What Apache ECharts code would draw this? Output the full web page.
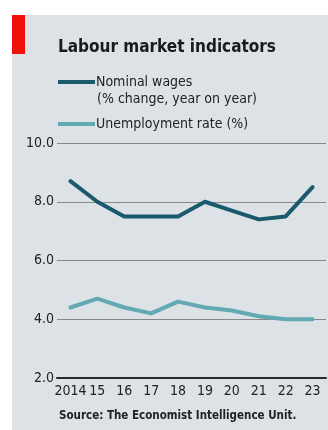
<!DOCTYPE html>
<html>
<head>
<meta charset="utf-8">
<script src="https://cdn.jsdelivr.net/npm/echarts@6/dist/echarts.min.js"></script>
<style>
  html, body { margin: 0; padding: 0; background: #ffffff; }
  #chart { width: 328px; height: 430px; }
</style>
</head>
<body>
<div id="chart"></div>
<script>
// Labour market indicators, 2014-2023
const years = ['2014', '15', '16', '17', '18', '19', '20', '21', '22', '23'];
const nominalWages = [8.7, 8.0, 7.5, 7.5, 7.5, 8.0, 7.7, 7.4, 7.5, 8.5];
const unemploymentRate = [4.4, 4.7, 4.4, 4.2, 4.6, 4.4, 4.3, 4.1, 4.0, 4.0];
const yTicks = [2, 4, 6, 8, 10];

const FONT = '"Liberation Sans Narrow", "DejaVu Sans Condensed", "Roboto", sans-serif';
const WAGE_COLOR = '#1a5a6c';
const UNEMP_COLOR = '#62a9b3';
const TEXT = '#222222';

const chart = echarts.init(document.getElementById('chart'), null, { renderer: 'canvas' });

chart.setOption({
  backgroundColor: '#ffffff',
  animation: false,
  graphic: [
    { type: 'rect', left: 12, top: 15, z: -10, shape: { width: 316, height: 415 }, style: { fill: '#dce2e5' } },
    { type: 'rect', left: 12, top: 15, z: -5, shape: { width: 13, height: 39 }, style: { fill: '#f0100c' } },
    { type: 'text', left: 58, top: 39, style: { text: 'Labour market indicators', font: 'bold 17px ' + FONT, fill: '#1a1a1a' } },
    { type: 'text', left: 97, top: 92, style: { text: '(% change, year on year)', font: '14px ' + FONT, fill: TEXT } },
    { type: 'text', left: 59, top: 410, style: { text: 'Source: The Economist Intelligence Unit.', font: 'bold 11.5px ' + FONT, fill: TEXT } }
  ],
  legend: [
    {
      data: ['Nominal wages'], left: 58, top: 74, padding: 0,
      icon: 'rect', itemWidth: 37, itemHeight: 4, itemGap: 0,
      textStyle: { fontFamily: FONT, fontSize: 14, color: TEXT, lineHeight: 16, padding: [0, 0, 0, -4] }
    },
    {
      data: ['Unemployment rate (%)'], left: 58, top: 116, padding: 0,
      icon: 'rect', itemWidth: 37, itemHeight: 4, itemGap: 0,
      textStyle: { fontFamily: FONT, fontSize: 14, color: TEXT, lineHeight: 16, padding: [0, 0, 0, -4] }
    }
  ],
  grid: { left: 57, right: 2, top: 143, bottom: 52, containLabel: false },
  xAxis: {
    type: 'category',
    data: years,
    boundaryGap: true,
    axisLine: { show: true, lineStyle: { color: '#2a2a2a', width: 2 } },
    axisTick: { show: false },
    axisLabel: {
      margin: 6,
      interval: 0,
      color: TEXT,
      fontFamily: FONT,
      fontSize: 14
    }
  },
  yAxis: {
    type: 'value',
    min: yTicks[0],
    max: yTicks[yTicks.length - 1],
    interval: 2,
    axisLine: { show: false },
    axisTick: { show: false },
    axisLabel: {
      margin: 3,
      color: TEXT,
      fontFamily: FONT,
      fontSize: 14,
      formatter: function (v) { return v.toFixed(1); }
    },
    splitLine: { show: true, lineStyle: { color: '#888888', width: 1 } }
  },
  series: [
    {
      name: 'Nominal wages',
      type: 'line',
      data: nominalWages,
      symbol: 'none',
      color: WAGE_COLOR,
      lineStyle: { color: WAGE_COLOR, width: 4, join: 'round', cap: 'round' }
    },
    {
      name: 'Unemployment rate (%)',
      type: 'line',
      data: unemploymentRate,
      symbol: 'none',
      color: UNEMP_COLOR,
      lineStyle: { color: UNEMP_COLOR, width: 4, join: 'round', cap: 'round' }
    }
  ]
});
</script>
</body>
</html>
